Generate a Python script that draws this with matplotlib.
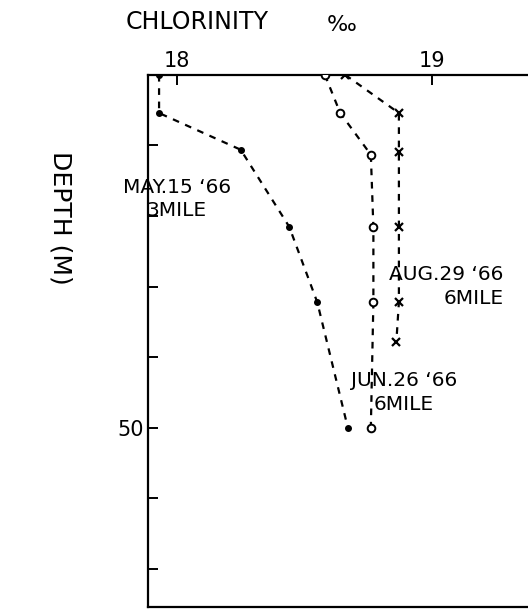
import matplotlib
matplotlib.use("Agg")
import matplotlib.pyplot as plt

# chlorinity (per mille) vs depth (m)
may_cl = [17.93, 17.93, 18.25, 18.44, 18.55, 18.67]
may_depth = [0, 5.4, 10.6, 21.5, 32.2, 50]

jun_cl = [18.58, 18.64, 18.76, 18.77, 18.77, 18.76]
jun_depth = [0, 5.4, 11.3, 21.6, 32.2, 50]

aug_cl = [18.66, 18.87, 18.87, 18.87, 18.87, 18.86]
aug_depth = [0, 5.4, 10.9, 21.6, 32.2, 37.8]

x_ticks = [18, 19]
y_ticks = [0, 10, 20, 30, 40, 50, 60, 70]
y_labels = ["", "", "", "", "", "50", "", ""]

plt.rcParams['font.family'] = ['DejaVu Sans']

fig = plt.figure(figsize=(5.28, 6.09), dpi=100)
ax = fig.add_axes([0.280, 0.003, 0.72, 0.874])

dash = (0, (3, 3))
ax.plot(may_cl, may_depth, color='black', lw=1.6, linestyle=dash,
        marker='o', markersize=4, markerfacecolor='black')
ax.plot(jun_cl, jun_depth, color='black', lw=1.6, linestyle=dash,
        marker='o', markersize=5.5, markerfacecolor='white',
        markeredgewidth=1.4, zorder=3)
ax.plot(aug_cl, aug_depth, color='black', lw=1.6, linestyle=dash,
        marker='x', markersize=6, markeredgewidth=1.6)

ax.set_xlim(17.886, 19.376)
ax.set_ylim(75.4, 0)

ax.xaxis.tick_top()
ax.set_xticks(x_ticks)
ax.set_xticklabels([str(t) for t in x_ticks], fontsize=15)
ax.set_yticks(y_ticks)
ax.set_yticklabels(y_labels, fontsize=15)
ax.tick_params(direction='in', length=7, width=1.4, pad=3)
ax.tick_params(axis='y', pad=3)

ax.spines['right'].set_visible(False)
for s in ['left', 'top', 'bottom']:
    ax.spines[s].set_linewidth(1.6)

# axis titles
fig.text(197 / 528, 1 - 22 / 609, "CHLORINITY", fontsize=17,
         ha='center', va='center')
fig.text(342 / 528, 1 - 25 / 609, "‰", fontsize=16,
         ha='center', va='center')
fig.text(60 / 528, 1 - 218 / 609, "DEPTH (M)", fontsize=18,
         ha='center', va='center', rotation=-90)

# curve labels
ax.text(18.0, 17.6, "MAY.15 ‘66\n3MILE", fontsize=14.5, ha='center',
        va='center', linespacing=1.3)
ax.text(19.28, 30.0, "AUG.29 ‘66\n6MILE", fontsize=14.5, ha='right',
        va='center', linespacing=1.3, multialignment='right')
ax.text(18.89, 45.0, "JUN.26 ‘66\n6MILE", fontsize=14.5, ha='center',
        va='center', linespacing=1.3)

fig.savefig("out.png", dpi=100)
